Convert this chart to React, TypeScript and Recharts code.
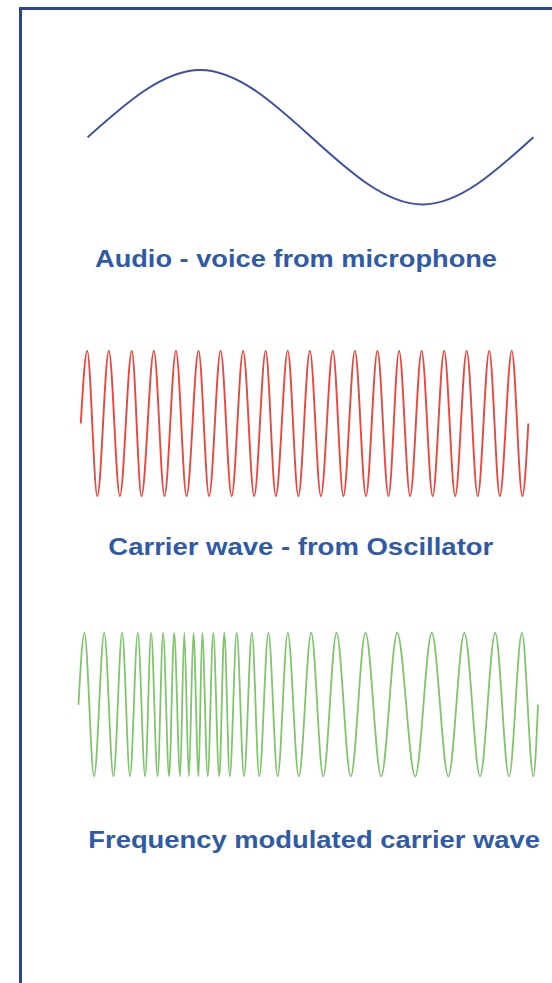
import React from 'react';
import { LineChart, Line, XAxis, YAxis } from 'recharts';

// time axis (ms) shared by all three waves
const audioTime = [0.21, 2.66, 7.49, 9.9];
const audioValue = [0, 1, -1, 0];

const carrierTime = [
  0.06, 0.2, 0.42, 0.67, 0.91, 1.17, 1.38, 1.65, 1.88, 2.13, 2.36, 2.62, 2.85, 3.1,
  3.34, 3.59, 3.83, 4.08, 4.3, 4.56, 4.79, 5.04, 5.28, 5.54, 5.77, 6.02, 6.26, 6.51,
  6.75, 6.98, 7.22, 7.47, 7.71, 7.96, 8.2, 8.45, 8.69, 8.94, 9.17, 9.43, 9.66, 9.79,
];
const carrierValue = [
  0, 1, -1, 1, -1, 1, -1, 1, -1, 1, -1, 1, -1, 1, -1, 1, -1, 1, -1, 1, -1,
  1, -1, 1, -1, 1, -1, 1, -1, 1, -1, 1, -1, 1, -1, 1, -1, 1, -1, 1, -1, 0,
];

const fmTime = [
  0.01, 0.14, 0.35, 0.57, 0.77, 0.96, 1.13, 1.3, 1.46, 1.59, 1.73, 1.85, 1.98, 2.09,
  2.22, 2.31, 2.41, 2.51, 2.62, 2.7, 2.82, 2.94, 3.07, 3.18, 3.3, 3.45, 3.61, 3.78,
  3.94, 4.14, 4.34, 4.56, 4.8, 5.07, 5.33, 5.62, 5.93, 6.25, 6.59, 6.94, 7.33, 7.69,
  8.05, 8.4, 8.74, 9.07, 9.37, 9.65, 9.9, 10.0,
];
const fmValue = [
  0, 1, -1, 1, -1, 1, -1, 1, -1, 1, -1, 1, -1, 1, -1, 1, -1, 1, -1, 1, -1, 1, -1, 1, -1,
  1, -1, 1, -1, 1, -1, 1, -1, 1, -1, 1, -1, 1, -1, 1, -1, 1, -1, 1, -1, 1, -1, 1, -1, 0,
];

const labels = [
  'Audio - voice from microphone',
  'Carrier wave - from Oscillator',
  'Frequency modulated carrier wave',
];

const toRows = (t: number[], v: number[]) => t.map((x, i) => ({ t: x, v: v[i] }));

const W = 552;
const PLOT_LEFT = 78;
const PLOT_RIGHT = 14;

type WaveProps = {
  rows: { t: number; v: number }[];
  top: number;
  plotHeight: number;
  color: string;
  width: number;
};

function Wave({ rows, top, plotHeight, color, width }: WaveProps) {
  const pad = 10;
  return (
    <div style={{ position: 'absolute', left: 0, top: top - pad }}>
      <LineChart
        width={W}
        height={plotHeight + pad * 2}
        data={rows}
        margin={{ top: pad, bottom: pad, left: PLOT_LEFT, right: PLOT_RIGHT }}
      >
        <XAxis dataKey="t" type="number" domain={[0, 10]} hide />
        <YAxis type="number" domain={[-1, 1]} hide />
        <Line
          dataKey="v"
          type="monotone"
          stroke={color}
          strokeWidth={width}
          dot={false}
          activeDot={false}
          isAnimationActive={false}
        />
      </LineChart>
    </div>
  );
}

export default function App() {
  const textColor = '#2f5aa6';
  const textStyle: React.CSSProperties = {
    fontFamily: '"Liberation Sans", Arial, sans-serif',
    fontWeight: 700,
    fontSize: 23.5,
  };
  return (
    <div
      style={{
        position: 'absolute',
        left: 0,
        top: 0,
        width: W,
        height: 983,
        background: '#ffffff',
        overflow: 'hidden',
      }}
    >
      <div
        style={{
          position: 'absolute',
          left: 19,
          top: 7,
          width: W,
          height: 1000,
          borderLeft: '3px solid #2c4685',
          borderTop: '3px solid #2c4685',
        }}
      />
      <Wave rows={toRows(audioTime, audioValue)} top={70} plotHeight={134.5} color="#3d4f9f" width={2} />
      <Wave rows={toRows(carrierTime, carrierValue)} top={350.5} plotHeight={145} color="#e8483f" width={1.9} />
      <Wave rows={toRows(fmTime, fmValue)} top={633} plotHeight={143.5} color="#7fc56c" width={1.8} />
      <svg width={W} height={983} style={{ position: 'absolute', left: 0, top: 0, pointerEvents: 'none' }}>
        <text x={95} y={266.7} fill={textColor} style={textStyle} textLength={402} lengthAdjust="spacingAndGlyphs">
          {labels[0]}
        </text>
        <text x={108.3} y={554.7} fill={textColor} style={textStyle} textLength={385} lengthAdjust="spacingAndGlyphs">
          {labels[1]}
        </text>
        <text x={88.3} y={848.3} fill={textColor} style={textStyle} textLength={451.7} lengthAdjust="spacingAndGlyphs">
          {labels[2]}
        </text>
      </svg>
    </div>
  );
}
